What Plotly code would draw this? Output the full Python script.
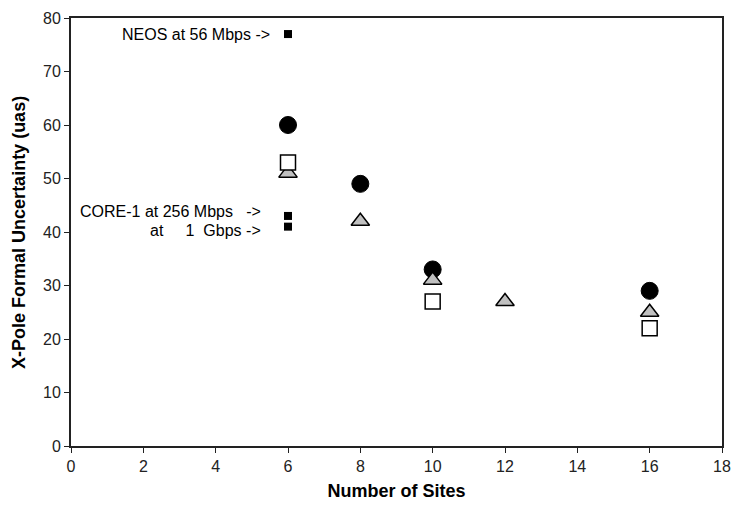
import plotly.graph_objects as go

# Data
circle_x = [6, 8, 10, 16]
circle_y = [60, 49, 33, 29]
triangle_x = [6, 8, 10, 12, 16]
triangle_y = [51, 42, 31, 27, 25]
open_sq_x = [6, 10, 16]
open_sq_y = [53, 27, 22]
small_sq_x = [6, 6, 6]
small_sq_y = [77, 43, 41]

ann_text = ["NEOS at 56 Mbps ->",
            "CORE-1 at 256 Mbps\u00a0\u00a0\u00a0->",
            "at\u00a0\u00a0\u00a0\u00a0\u00a01\u00a0\u00a0Gbps ->"]
ann_x = [5.55, 5.3, 5.3]
ann_y = [77, 43.9, 40.2]

FONT = "Liberation Sans, Arial, sans-serif"

fig = go.Figure()
fig.add_trace(go.Scatter(x=circle_x, y=circle_y, mode="markers",
                         marker=dict(symbol="circle", size=17, color="black",
                                     line=dict(color="black", width=1)),
                         showlegend=False))
fig.add_trace(go.Scatter(x=triangle_x, y=triangle_y, mode="markers",
                         marker=dict(symbol="triangle-up", size=16, color="#c0c0c0",
                                     line=dict(color="black", width=1.5)),
                         showlegend=False))
fig.add_trace(go.Scatter(x=open_sq_x, y=open_sq_y, mode="markers",
                         marker=dict(symbol="square", size=15, color="white",
                                     line=dict(color="black", width=1.5)),
                         showlegend=False))
fig.add_trace(go.Scatter(x=small_sq_x, y=small_sq_y, mode="markers",
                         marker=dict(symbol="square", size=8, color="black"),
                         showlegend=False))

for t, x, y in zip(ann_text, ann_x, ann_y):
    fig.add_annotation(x=x, y=y, text=t, showarrow=False, xanchor="right",
                       yanchor="middle", font=dict(family=FONT, size=16, color="black"))

# y-axis title placed as a rotated annotation
fig.add_annotation(x=-0.08, y=0.5, xref="paper", yref="paper",
                   text="<b>X-Pole Formal Uncertainty (uas)</b>", textangle=-90,
                   showarrow=False, xanchor="center", yanchor="middle",
                   font=dict(family=FONT, size=18, color="black"))

axis_common = dict(showline=True, linecolor="#222", linewidth=2, mirror=True,
                   ticks="outside", ticklen=5, tickcolor="#222", showgrid=False,
                   zeroline=False, automargin=False,
                   tickfont=dict(family=FONT, size=16, color="#222"))

fig.update_xaxes(range=[0, 18], dtick=2, tick0=0,
                 title=dict(text="<b>Number of Sites</b>", standoff=10,
                            font=dict(family=FONT, size=18, color="black")),
                 **axis_common)
fig.update_yaxes(range=[0, 80], dtick=10, tick0=0, **axis_common)

fig.update_layout(width=736, height=503, plot_bgcolor="white", paper_bgcolor="white",
                  margin=dict(l=63, r=22, t=10, b=65, autoexpand=False), showlegend=False)

fig.write_html("out.html")
